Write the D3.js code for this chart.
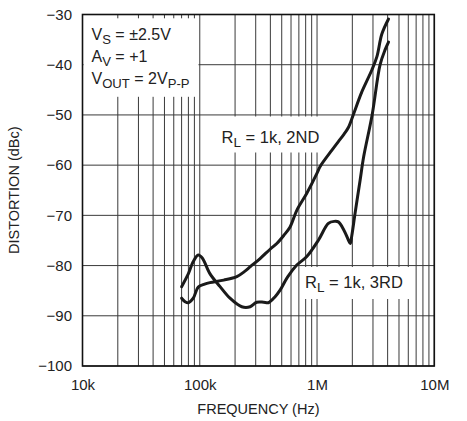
<!DOCTYPE html>
<html>
<head>
<meta charset="utf-8">
<script src="https://cdn.jsdelivr.net/npm/d3@7"></script>
<style>
  html, body { margin: 0; padding: 0; background: #fff; }
  svg { display: block; font-family: "Liberation Sans", Arial, Helvetica, sans-serif; }
</style>
</head>
<body>
<svg id="chart" width="467" height="421"></svg>
<script>
// ---- data ----
const xTickValues = [1e4, 1e5, 1e6, 1e7];
const xTickLabels = ["10k", "100k", "1M", "10M"];
const yTickValues = [-30, -40, -50, -60, -70, -80, -90, -100];
const yTickLabels = ["\u221230", "\u221240", "\u221250", "\u221260", "\u221270", "\u221280", "\u221290", "\u2212100"];

// R_L = 1k, 2ND harmonic: frequency (Hz), distortion (dBc)
const secondFreq = [70e3, 75e3, 80e3, 88e3, 97e3, 110e3, 122e3, 160e3, 207e3, 240e3, 270e3, 327e3, 400e3, 454e3, 520e3, 589e3, 672e3, 818e3, 1.0e6, 1.06e6, 1.34e6, 1.52e6, 1.7e6, 1.85e6, 2.05e6, 2.4e6, 2.94e6, 3.24e6, 3.57e6, 4.07e6];
const secondDist = [-86.5, -87.2, -87.4, -86.5, -84.3, -83.7, -83.4, -82.9, -82.2, -81.2, -80.2, -78.6, -76.7, -75.6, -74.0, -72.3, -69.0, -65.6, -61.6, -60.3, -57.0, -55.3, -53.8, -52.5, -49.8, -45.5, -41.0, -38.4, -33.9, -30.9];

// R_L = 1k, 3RD harmonic
const thirdFreq = [70e3, 80e3, 88e3, 97e3, 105e3, 122e3, 149e3, 181e3, 228e3, 269e3, 306e3, 350e3, 385e3, 439e3, 484e3, 560e3, 672e3, 818e3, 1.03e6, 1.25e6, 1.4e6, 1.52e6, 1.7e6, 1.85e6, 1.92e6, 1.98e6, 2.11e6, 2.33e6, 2.5e6, 2.95e6, 3.45e6, 3.81e6, 4.07e6];
const thirdDist = [-84.2, -81.6, -79.2, -77.9, -78.5, -81.6, -84.2, -86.5, -88.2, -88.2, -87.3, -87.3, -87.4, -86.2, -84.9, -82.3, -79.9, -78.2, -74.9, -71.6, -71.2, -71.3, -73.0, -74.9, -75.6, -74.0, -69.6, -63.0, -58.3, -50.0, -40.0, -37.0, -35.5];

// ---- layout ----
const svg = d3.select("#chart");
const pL = 82.5, pR = 434.3, pT = 14.5, pB = 366;
const x = d3.scaleLog().domain([1e4, 1e7]).range([pL, pR]);
const y = d3.scaleLinear().domain([-100, -30]).range([pB, pT]);

const gridColor = "#3a3a3a";

// vertical grid (log minor/major)
const grid = svg.append("g");
grid.selectAll("line.v").data(x.ticks()).enter().append("line")
  .attr("x1", d => x(d)).attr("x2", d => x(d))
  .attr("y1", pT).attr("y2", pB)
  .attr("stroke", gridColor).attr("stroke-width", 1);
grid.selectAll("line.h").data(yTickValues).enter().append("line")
  .attr("x1", pL).attr("x2", pR)
  .attr("y1", d => y(d)).attr("y2", d => y(d))
  .attr("stroke", gridColor).attr("stroke-width", 1);

// white backgrounds for annotations
svg.append("rect").attr("x", pL + 1).attr("y", 18.3).attr("width", 115).attr("height", 78.5).attr("fill", "#fff");
svg.append("rect").attr("x", 218).attr("y", 116.5).attr("width", 101).attr("height", 36).attr("fill", "#fff");
svg.append("rect").attr("x", 300).attr("y", 267).attr("width", 112).attr("height", 32).attr("fill", "#fff");

// frame
svg.append("rect").attr("x", pL).attr("y", pT).attr("width", pR - pL).attr("height", pB - pT)
  .attr("fill", "none").attr("stroke", "#111").attr("stroke-width", 1.6);

// axes labels
const xAxis = d3.axisBottom(x).tickValues(xTickValues).tickSize(0).tickPadding(0)
  .tickFormat((d, i) => xTickLabels[i]);
const gx = svg.append("g").attr("transform", `translate(0,${pB})`).call(xAxis);
gx.select(".domain").remove();
gx.selectAll("text").attr("font-size", 15).attr("fill", "#222")
  .attr("font-family", "'Liberation Sans', Arial, sans-serif")
  .attr("dy", null).attr("y", 24);

const yAxis = d3.axisLeft(y).tickValues(yTickValues).tickSize(0).tickPadding(10.5)
  .tickFormat((d, i) => yTickLabels[i]);
const gy = svg.append("g").attr("transform", `translate(${pL},0)`).call(yAxis);
gy.select(".domain").remove();
gy.selectAll("text").attr("font-size", 15).attr("fill", "#222")
  .attr("font-family", "'Liberation Sans', Arial, sans-serif");

svg.append("text").attr("x", (pL + pR) / 2).attr("y", 414)
  .attr("text-anchor", "middle").attr("font-size", 14.5).attr("fill", "#222")
  .text("FREQUENCY (Hz)");
svg.append("text").attr("transform", `translate(19,${(pT + pB) / 2}) rotate(-90)`)
  .attr("text-anchor", "middle").attr("font-size", 14.5).attr("fill", "#222")
  .text("DISTORTION (dBc)");

// curves
const line = d3.line().x(d => x(d[0])).y(d => y(d[1])).curve(d3.curveCatmullRom.alpha(0.5));
const secondData = secondFreq.map((f, i) => [f, secondDist[i]]);
const thirdData = thirdFreq.map((f, i) => [f, thirdDist[i]]);
[secondData, thirdData].forEach(data => {
  svg.append("path").datum(data).attr("d", line)
    .attr("fill", "none").attr("stroke", "#1a1a1a").attr("stroke-width", 3)
    .attr("stroke-linejoin", "round").attr("stroke-linecap", "round");
});

// annotation texts
function richText(xp, yp, parts, size) {
  const t = svg.append("text").attr("x", xp).attr("y", yp).attr("font-size", size).attr("fill", "#222");
  parts.forEach(p => {
    const ts = t.append("tspan").text(p[0]);
    if (p[1] === "sub") ts.attr("font-size", size * 0.82).attr("dy", 4);
    else if (p[1] === "back") ts.attr("dy", -4);
  });
  return t;
}
richText(91.5, 40, [["V"], ["S", "sub"], [" = \u00b12.5V", "back"]], 16);
richText(91.5, 62, [["A"], ["V", "sub"], [" = +1", "back"]], 16);
richText(91.5, 84, [["V"], ["OUT", "sub"], [" = 2V", "back"], ["P-P", "sub"]], 16);
richText(221.5, 143, [["R"], ["L", "sub"], [" = 1k, 2ND", "back"]], 16.5);
richText(305, 287.5, [["R"], ["L", "sub"], [" = 1k, 3RD", "back"]], 16.5);
</script>
</body>
</html>
